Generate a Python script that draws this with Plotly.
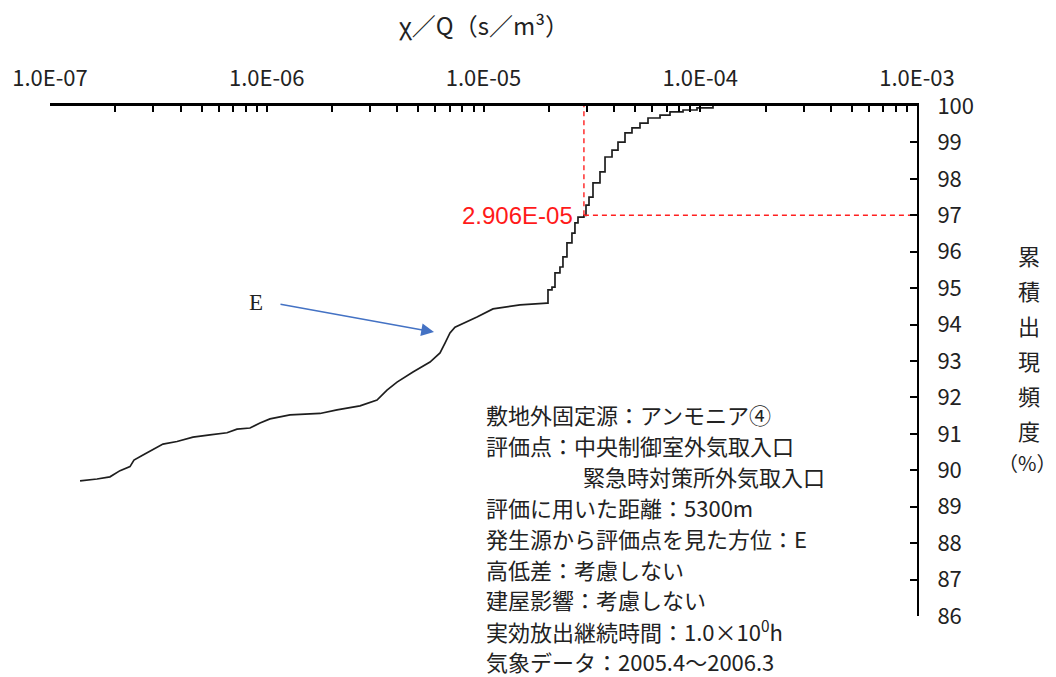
import math
import plotly.graph_objects as go

# Cumulative occurrence frequency of chi/Q (E direction)
chi_q = [1.376e-7, 1.648e-7, 1.891e-7, 2.104e-7, 2.339e-7, 2.440e-7, 2.686e-7, 2.987e-7,
         3.320e-7, 3.854e-7, 4.567e-7, 5.472e-7, 6.556e-7, 7.291e-7, 8.370e-7, 9.309e-7,
         1.035e-6, 1.280e-6, 1.761e-6, 2.109e-6, 2.693e-6, 3.227e-6, 3.587e-6, 3.991e-6,
         4.727e-6, 5.665e-6, 6.300e-6, 6.644e-6, 7.004e-6, 7.386e-6, 7.790e-6, 9.333e-6,
         1.106e-5, 1.283e-5, 1.474e-5, 1.963e-5,
         1.984e-5, 2.070e-5, 2.137e-5, 2.253e-5, 2.326e-5, 2.427e-5, 2.559e-5, 2.642e-5,
         2.729e-5, 2.906e-5, 2.971e-5, 3.067e-5, 3.200e-5, 3.447e-5, 3.636e-5, 3.917e-5,
         4.174e-5, 4.496e-5, 4.842e-5, 5.272e-5, 5.741e-5, 6.523e-5, 7.252e-5, 8.327e-5,
         9.661e-5, 1.145e-4]
cum_freq = [89.71, 89.76, 89.82, 89.99, 90.10, 90.28, 90.42, 90.58,
            90.72, 90.79, 90.91, 90.97, 91.03, 91.13, 91.16, 91.30,
            91.41, 91.52, 91.56, 91.66, 91.77, 91.93, 92.20, 92.42,
            92.70, 92.97, 93.22, 93.49, 93.77, 93.93, 93.99, 94.21,
            94.43, 94.48, 94.54, 94.59,
            94.95, 95.03, 95.42, 95.58, 95.86, 96.24, 96.51, 96.79,
            96.95, 97.00, 97.28, 97.50, 97.89, 98.19, 98.60, 98.79,
            99.01, 99.26, 99.40, 99.53, 99.67, 99.75, 99.84, 99.89,
            99.95, 100.00]
# index where the curve turns into the coarse staircase
step_start = 35

# 97th percentile value
chi_q_97 = 2.906e-5
pct_97 = 97.0
label_97 = "2.906E-05"

x_tick_vals = [1e-7, 1e-6, 1e-5, 1e-4, 1e-3]
x_tick_text = ["1.0E-07", "1.0E-06", "1.0E-05", "1.0E-04", "1.0E-03"]
y_min, y_max = 86, 100

info_lines = [
    "敷地外固定源：アンモニア④",
    "評価点：中央制御室外気取入口",
    "緊急時対策所外気取入口",
    "評価に用いた距離：5300m",
    "発生源から評価点を見た方位：E",
    "高低差：考慮しない",
    "建屋影響：考慮しない",
    "実効放出継続時間：1.0×10<sup>0</sup>h",
    "気象データ：2005.4～2006.3",
]
y_title_chars = ["累", "積", "出", "現", "頻", "度", "（%）"]

W, H = 1056, 677
L, R, T, B = 50, 139, 106, 61
PW, PH = W - L - R, H - T - B


def paper(px, py):
    return (px - L) / PW, (H - B - py) / PH


JP = "Noto Sans CJK JP"
TICK_FONT = "Noto Sans CJK JP"

fig = go.Figure()

fig.add_trace(go.Scatter(
    x=chi_q[:step_start + 1], y=cum_freq[:step_start + 1], mode="lines",
    line=dict(color="#1e1e1e", width=1.7, shape="linear"), hoverinfo="skip"))
fig.add_trace(go.Scatter(
    x=chi_q[step_start:], y=cum_freq[step_start:], mode="lines",
    line=dict(color="#1e1e1e", width=1.7, shape="hv"), hoverinfo="skip"))

# dashed guides to the 97 % point
fig.add_trace(go.Scatter(
    x=[chi_q_97, chi_q_97], y=[pct_97, y_max], mode="lines",
    line=dict(color="#ff2020", width=1.4, dash="5px,4px"), hoverinfo="skip"))
fig.add_trace(go.Scatter(
    x=[chi_q_97, x_tick_vals[-1]], y=[pct_97, pct_97], mode="lines",
    line=dict(color="#ff2020", width=1.4, dash="5px,4px"), hoverinfo="skip"))

minor_vals = [m * 10.0 ** e for e in range(-7, -3) for m in range(2, 10)]

fig.update_xaxes(
    type="log", side="top", range=[math.log10(x_tick_vals[0]), math.log10(x_tick_vals[-1])],
    showline=True, linecolor="black", linewidth=2.5,
    ticks="inside", ticklen=6, tickwidth=1.5, tickcolor="black",
    tickvals=x_tick_vals, ticktext=x_tick_text,
    tickfont=dict(family=TICK_FONT, size=22, color="#222"),
    ticklabelstandoff=8,
    minor=dict(tickvals=minor_vals, ticks="inside", ticklen=6, tickwidth=1.5,
               tickcolor="black", showgrid=False),
    showgrid=False, zeroline=False,
)
fig.update_yaxes(
    side="right", range=[y_min, y_max], tick0=y_min, dtick=1,
    showline=True, linecolor="black", linewidth=2,
    ticks="inside", ticklen=7, tickwidth=1.5, tickcolor="black",
    tickfont=dict(family=TICK_FONT, size=22, color="#222"),
    ticklabelstandoff=14,
    showgrid=False, zeroline=False,
)

ann = []
# top axis title
tx, ty = paper(484, 25)
ann.append(dict(text="χ／Q（s／m³）", x=tx, y=ty, xref="paper", yref="paper",
                showarrow=False, xanchor="center", yanchor="middle",
                font=dict(family=JP, size=24, color="#222")))
# vertical y-axis title
for i, ch in enumerate(y_title_chars):
    cy = 255 + i * 35 if i < 6 else 462
    cx, cyp = paper(1029 if i < 6 else 1027, cy)
    ann.append(dict(text=ch, x=cx, y=cyp, xref="paper", yref="paper",
                    showarrow=False, xanchor="center", yanchor="middle",
                    font=dict(family=JP, size=22 if i < 6 else 20, color="#222")))
# condition block
for i, txt in enumerate(info_lines):
    ly = 414 + i * 30.9
    lx = 581 if i == 2 else 484
    px_, py_ = paper(lx, ly)
    ann.append(dict(text=txt, x=px_, y=py_, xref="paper", yref="paper",
                    showarrow=False, xanchor="left", yanchor="middle",
                    font=dict(family=JP, size=22, color="#222")))
# 97 % value label
ann.append(dict(text=label_97, x=math.log10(chi_q_97), y=pct_97, xref="x", yref="y",
                showarrow=False, xanchor="right", yanchor="middle", xshift=-9,
                font=dict(family="Liberation Sans", size=24, color="#ff1a1a")))
# direction label and arrow
ex, ey = paper(256, 302)
ann.append(dict(text="E", x=ex, y=ey, xref="paper", yref="paper", showarrow=False,
                xanchor="center", yanchor="middle",
                font=dict(family="Liberation Serif", size=23, color="#222")))
hx, hy = paper(434, 332)
ann.append(dict(text="", x=hx, y=hy, xref="paper", yref="paper", showarrow=True,
                ax=279 - 434, ay=304 - 332, axref="pixel", ayref="pixel",
                arrowhead=2, arrowsize=1.7, arrowwidth=1.5, arrowcolor="#4472c4",
                standoff=0, startstandoff=0))

fig.update_layout(
    width=W, height=H, margin=dict(l=L, r=R, t=T, b=B),
    paper_bgcolor="white", plot_bgcolor="white", showlegend=False,
    annotations=ann,
)

fig.write_html("out.html")
